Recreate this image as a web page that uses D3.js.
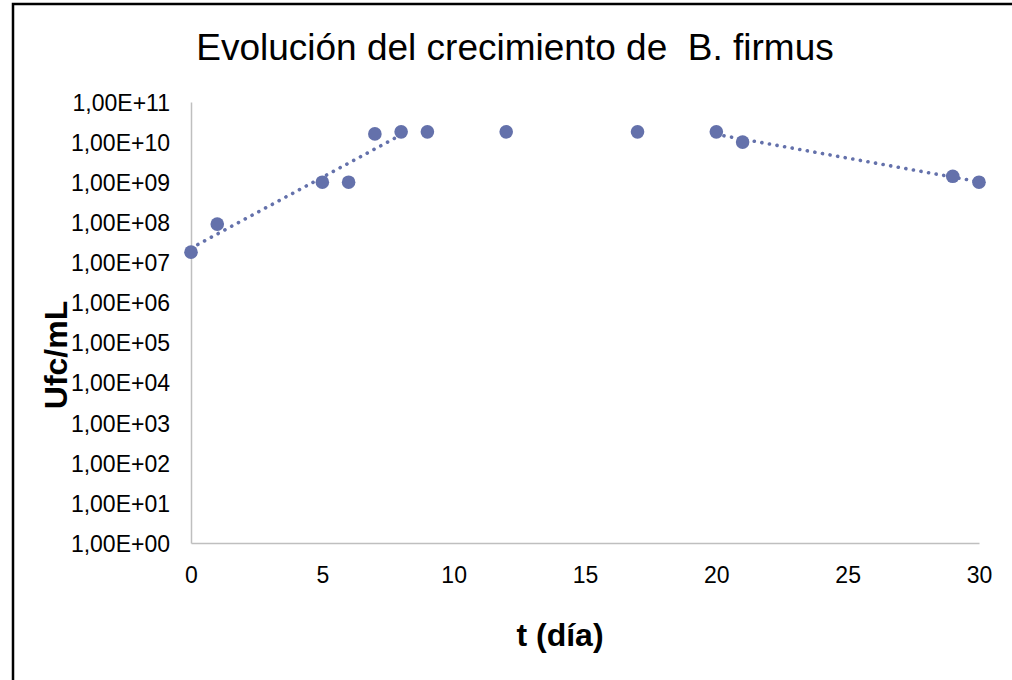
<!DOCTYPE html>
<html>
<head>
<meta charset="utf-8">
<script src="https://cdn.jsdelivr.net/npm/d3@7"></script>
<style>
  body { margin: 0; background: #fff; }
  svg { display: block; font-family: "Liberation Sans", Arial, sans-serif; }
</style>
</head>
<body>
<svg id="chart" width="1012" height="680"></svg>
<script>
// Data
const days = [0, 1, 5, 6, 7, 8, 9, 12, 17, 20, 21, 29, 30];
const ufc  = [1.8e7, 9e7, 1e9, 1e9, 1.6e10, 1.8e10, 1.8e10, 1.8e10, 1.8e10, 1.8e10, 1e10, 1.4e9, 1e9];

// Points used for each exponential trendline (growth and decline)
const growthDays  = [0, 1, 5, 6, 7, 8];
const declineDays = [20, 21, 29, 30];

const xTicks = [0, 5, 10, 15, 20, 25, 30];
const yTicks = d3.range(0, 12).map(e => Math.pow(10, e));

const svg = d3.select("#chart");

// Outer chart frame
svg.append("rect")
  .attr("x", 13).attr("y", 4)
  .attr("width", 1010).attr("height", 690)
  .style("fill", "none")
  .style("stroke", "#000")
  .style("stroke-width", 2.5);

const x = d3.scaleLinear().domain([0, 30]).range([191, 979]);
const y = d3.scaleLog().domain([1, 1e11]).range([543, 102]);

// Title (keeps the double space of the original)
svg.append("text")
  .attr("x", 515).attr("y", 60)
  .attr("text-anchor", "middle")
  .style("font-size", "37px")
  .style("white-space", "pre")
  .style("fill", "#000")
  .text("Evolución del crecimiento de  B. firmus");

// Y axis
const fmt = v => "1,00E+" + String(Math.round(Math.log10(v))).padStart(2, "0");
const yAxis = svg.append("g")
  .attr("transform", `translate(${x(0)},0)`)
  .call(d3.axisLeft(y).tickValues(yTicks).tickFormat(fmt).tickSize(0).tickPadding(21));
yAxis.select(".domain").style("stroke", "#BFBFBF").style("stroke-width", 1.5);
yAxis.selectAll("text")
  .style("font-size", "23px").style("font-family", "'Liberation Sans', Arial, sans-serif")
  .style("fill", "#000").attr("dy", "0.36em");

// X axis
const xAxis = svg.append("g")
  .attr("transform", `translate(0,${y(1)})`)
  .call(d3.axisBottom(x).tickValues(xTicks).tickSize(0).tickPadding(40));
xAxis.select(".domain").style("stroke", "#BFBFBF").style("stroke-width", 1.5);
xAxis.selectAll("text")
  .style("font-size", "23px").style("font-family", "'Liberation Sans', Arial, sans-serif")
  .style("fill", "#000").attr("dy", "0");

// Axis titles
svg.append("text")
  .attr("x", 560).attr("y", 646)
  .attr("text-anchor", "middle")
  .style("font-size", "32px").style("font-weight", "bold")
  .text("t (día)");

svg.append("text")
  .attr("transform", "translate(67,355) rotate(-90)")
  .attr("text-anchor", "middle")
  .style("font-size", "32px").style("font-weight", "bold")
  .text("Ufc/mL");

// Exponential trendline: least squares on ln(y)
function expFit(subset) {
  const pts = subset.map(d => [d, Math.log(ufc[days.indexOf(d)])]);
  const mx = d3.mean(pts, p => p[0]);
  const my = d3.mean(pts, p => p[1]);
  const b = d3.sum(pts, p => (p[0] - mx) * (p[1] - my)) / d3.sum(pts, p => (p[0] - mx) ** 2);
  const a = my - b * mx;
  const x0 = d3.min(subset), x1 = d3.max(subset);
  return d3.range(0, 41).map(i => {
    const t = x0 + (x1 - x0) * i / 40;
    return [t, Math.exp(a + b * t)];
  });
}

const color = "#6471AB";
const line = d3.line().x(d => x(d[0])).y(d => y(d[1]));

[growthDays, declineDays].forEach(subset => {
  svg.append("path")
    .attr("d", line(expFit(subset)))
    .style("fill", "none")
    .style("stroke", color)
    .style("stroke-width", 3.6)
    .style("stroke-linecap", "round")
    .style("stroke-dasharray", "0.1 7.6");
});

// Points
svg.append("g").selectAll("circle")
  .data(days)
  .join("circle")
  .attr("cx", d => x(d))
  .attr("cy", (d, i) => y(ufc[i]))
  .attr("r", 6.8)
  .style("fill", color);
</script>
</body>
</html>
